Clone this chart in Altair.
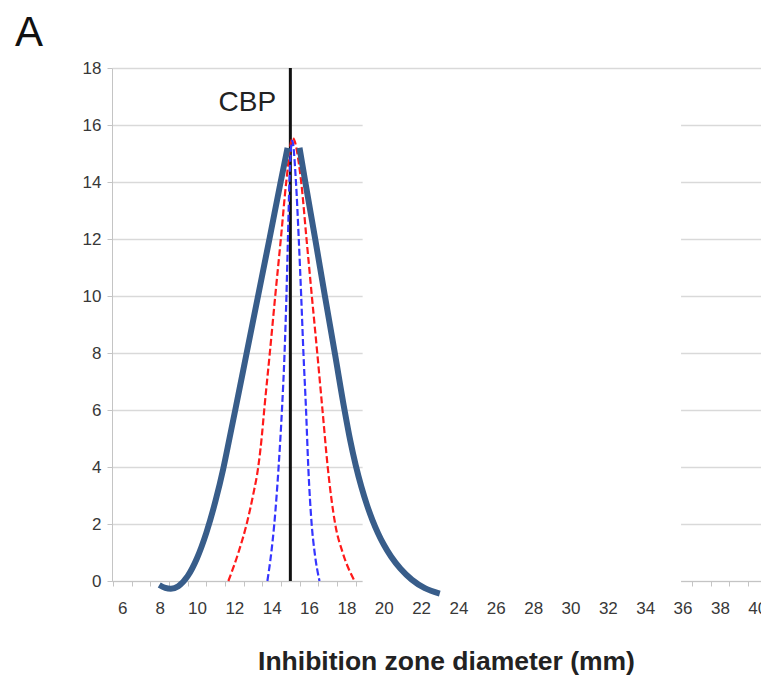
import altair as alt
import pandas as pd

# ---- data ----
x_tick_positions = [5.5, 6.5, 7.5, 8.5, 9.5, 10.5, 11.5, 12.5, 13.5, 14.5, 15.5, 16.5,
                    17.5, 18.5, 19.5, 20.5, 21.5, 22.5, 23.5, 24.5, 25.5, 26.5, 27.5,
                    28.5, 29.5, 30.5, 31.5, 32.5, 33.5, 34.5, 35.5, 36.5, 37.5, 38.5, 39.5]
y_ticks = [0, 2, 4, 6, 8, 10, 12, 14, 16, 18]

# thick outline curve (two branches)
thick_left_x = [7.98, 8.3, 8.6, 9.0, 9.5, 10.0, 10.5, 11.0, 11.4, 11.74, 12.05,
                12.66, 13.27, 13.88, 14.48, 14.85]
thick_left_y = [-0.14, -0.24, -0.27, -0.18, 0.17, 0.8, 1.69, 2.83, 3.92, 5.0, 6.0,
                8.0, 10.0, 12.0, 14.0, 15.2]
thick_right_x = [15.49, 15.80, 16.33, 16.85, 17.38, 17.9, 18.2, 18.5, 18.8, 19.1, 19.4,
                 19.7, 20.0, 20.4, 20.9, 21.5, 22.2, 23.0]
thick_right_y = [15.2, 14.0, 12.0, 10.0, 8.0, 6.0, 4.95, 4.06, 3.31, 2.67, 2.13,
                 1.67, 1.28, 0.85, 0.43, 0.05, -0.25, -0.44]

# red dashed curve
red_x = [11.68, 12.22, 12.66, 13.0, 13.28, 13.46, 13.6, 13.9, 14.19, 14.49, 14.78, 15.12,
         15.58, 15.865, 16.15, 16.44, 16.72, 17.0, 17.4, 17.8, 18.44]
red_y = [0, 1, 2, 3, 4, 5, 6, 8, 10, 12, 14, 15.55,
         14, 12, 10, 8, 6, 4, 2, 1, 0]

# blue dashed curve
blue_x = [13.77, 13.98, 14.14, 14.37, 14.55, 14.69, 14.79, 14.87, 14.95, 15.1,
          15.3, 15.45, 15.58, 15.7, 15.84, 15.96, 16.14, 16.3, 16.56]
blue_y = [0, 1, 2, 4, 6, 8, 10, 12, 14, 15.45,
          14, 12, 10, 8, 6, 4, 2, 1, 0]

cbp_x = 15.0
cbp_label = "CBP"
panel_label = "A"

# blank (white) region of the original figure
mask_x = [18.87, 35.92]
mask_y = [-0.4, 17.7]

# ---- tables ----
df_thick = pd.DataFrame({
    "x": thick_left_x + thick_right_x,
    "y": thick_left_y + thick_right_y,
    "branch": ["L"] * len(thick_left_x) + ["R"] * len(thick_right_x),
    "i": list(range(len(thick_left_x))) + list(range(len(thick_right_x))),
})
df_red = pd.DataFrame({"x": red_x, "y": red_y, "i": list(range(len(red_x)))})
df_blue = pd.DataFrame({"x": blue_x, "y": blue_y, "i": list(range(len(blue_x)))})
df_cbp = pd.DataFrame({"x": [cbp_x], "y": [y_ticks[0]], "y2": [y_ticks[-1]]})
df_mask = pd.DataFrame({"x": [mask_x[0]], "x2": [mask_x[1]], "y": [mask_y[0]], "y2": [mask_y[1]]})
df_cbp_text = pd.DataFrame({"x": [12.7], "y": [16.5], "t": [cbp_label]})
df_A = pd.DataFrame({"t": [panel_label]})

FONT = "Liberation Sans, Arial, sans-serif"

xscale = alt.Scale(domain=[5.45, 40.2], nice=False, zero=False)
yscale = alt.Scale(domain=[0, 18], nice=False, zero=False)

xaxis = alt.Axis(
    values=x_tick_positions,
    labelExpr="(datum.value + 0.5) % 2 == 0 ? format(datum.value + 0.5, 'd') : ''",
    labelOffset=9.34, labelOverlap=False, labelFlush=False,
    tickSize=5, tickColor="#c4c4c4", domainColor="#c4c4c4", grid=False,
    labelFont=FONT, labelFontSize=17, labelColor="#383838", labelPadding=14,
    title="Inhibition zone diameter (mm)", titleFont=FONT, titleFontSize=26.5,
    titleFontWeight="bold", titleColor="#222222", titleX=334, titleY=88,
    titleBaseline="alphabetic", titleAlign="center",
)
yaxis = alt.Axis(
    values=y_ticks, grid=True, gridColor="#d9d9d9", gridWidth=1.6,
    domainColor="#c4c4c4", tickColor="#c4c4c4", tickSize=5,
    labelFont=FONT, labelFontSize=17, labelColor="#383838", labelPadding=6,
    title=None,
)

X = lambda f: alt.X(f, type="quantitative", scale=xscale, axis=xaxis)
Y = lambda f: alt.Y(f, type="quantitative", scale=yscale, axis=yaxis)

mask = alt.Chart(df_mask).mark_rect(color="white").encode(
    x=X("x"), x2="x2", y=Y("y"), y2="y2")

cbp_rule = alt.Chart(df_cbp).mark_rule(color="#111111", strokeWidth=3).encode(
    x=X("x"), y=Y("y"), y2="y2")

red = alt.Chart(df_red).mark_line(color="#ff1a1a", strokeWidth=2.2, strokeDash=[7, 3],
                                  interpolate="monotone").encode(
    x=X("x"), y=Y("y"), order="i:Q")

blue = alt.Chart(df_blue).mark_line(color="#3535ff", strokeWidth=2.2, strokeDash=[7, 3],
                                    interpolate="monotone").encode(
    x=X("x"), y=Y("y"), order="i:Q")

thick = alt.Chart(df_thick).mark_line(color="#385D8A", strokeWidth=6,
                                      interpolate="monotone", strokeCap="butt").encode(
    x=X("x"), y=Y("y"), detail="branch:N", order="i:Q")

cbp_text = alt.Chart(df_cbp_text).mark_text(
    font=FONT, fontSize=28, color="#222222", align="center", baseline="alphabetic"
).encode(x=X("x"), y=Y("y"), text="t:N")

a_text = alt.Chart(df_A).mark_text(
    font=FONT, fontSize=42, color="#111111", align="center", baseline="alphabetic"
).encode(x=alt.value(-83), y=alt.value(-22), text="t:N")

chart = alt.layer(mask, cbp_rule, red, blue, thick, cbp_text, a_text).properties(
    width=649, height=513,
    autosize=alt.AutoSizeParams(type="none"),
    padding={"left": 112, "top": 68, "right": 0, "bottom": 95},
).configure_view(strokeWidth=0)

chart.save("out.html", embed_options={"renderer": "svg", "actions": False})
